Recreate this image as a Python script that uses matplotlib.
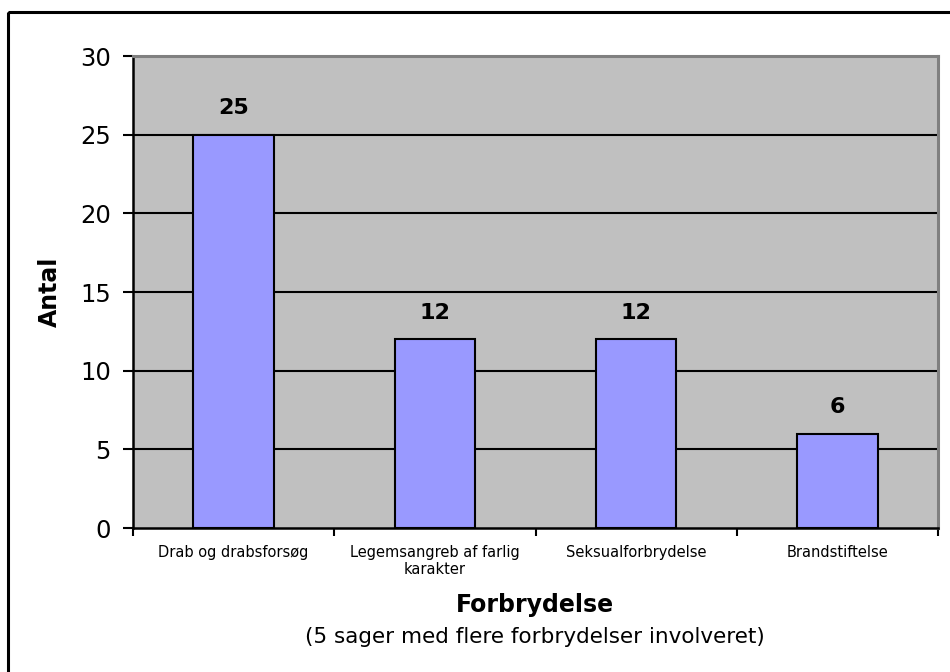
import matplotlib.pyplot as plt
import numpy as np

categories = ['Drab og drabsforsøg', 'Legemsangreb af farlig\nkarakter',
              'Seksualforbrydelse', 'Brandstiftelse']
counts = [25, 12, 12, 6]
y_ticks = [0, 5, 10, 15, 20, 25, 30]

W, H = 950, 672
fig = plt.figure(figsize=(W / 100, H / 100), dpi=100)

# outer chart frame (right/bottom run off the picture)
fig.patches.append(plt.Rectangle((8 / W, 1 - 12 / H), 2, -2, transform=fig.transFigure,
                                 fill=False, edgecolor='black', lw=2.2))

ax = fig.add_axes([133 / W, 1 - 528 / H, (938 - 133) / W, (528 - 56) / H])
ax.set_facecolor('#c0c0c0')

x = np.arange(len(categories))
ax.bar(x, counts, width=0.4, color='#9999ff', edgecolor='black', lw=1.5, zorder=3)

for xi, v in zip(x, counts):
    ax.annotate(str(v), xy=(xi, v), xytext=(0, 12), textcoords='offset points',
                ha='center', va='bottom', fontsize=16, fontweight='bold')

ax.set_xlim(-0.5, len(categories) - 0.5)
ax.set_ylim(0, 30)
ax.set_yticks(y_ticks)
ax.tick_params(axis='y', labelsize=17.5, length=7, width=1.5, direction='out', pad=9)
for yv in y_ticks[1:-1]:
    ax.axhline(yv, color='black', lw=1.5, zorder=1)

# category ticks sit at the category boundaries
ax.set_xticks(np.arange(len(categories) + 1) - 0.5)
ax.set_xticklabels([])
ax.set_xticks(x, minor=True)
ax.set_xticklabels(categories, minor=True, fontsize=10.5)
ax.tick_params(axis='x', which='major', length=6, width=1.5, direction='out')
ax.tick_params(axis='x', which='minor', length=0, pad=12)

for side in ['left', 'bottom']:
    ax.spines[side].set_color('black')
    ax.spines[side].set_linewidth(1.8)
for side in ['top', 'right']:
    ax.spines[side].set_color('#808080')
    ax.spines[side].set_linewidth(2.2)

fig.text(50 / W, 1 - 292 / H, 'Antal', rotation=90, ha='center', va='center',
         fontsize=17, fontweight='bold')
fig.text(535 / W, 1 - 605 / H, 'Forbrydelse', ha='center', va='center',
         fontsize=17, fontweight='bold')
fig.text(535 / W, 1 - 637 / H, '(5 sager med flere forbrydelser involveret)',
         ha='center', va='center', fontsize=15.5)

plt.savefig('out.png', dpi=100)
plt.close()
